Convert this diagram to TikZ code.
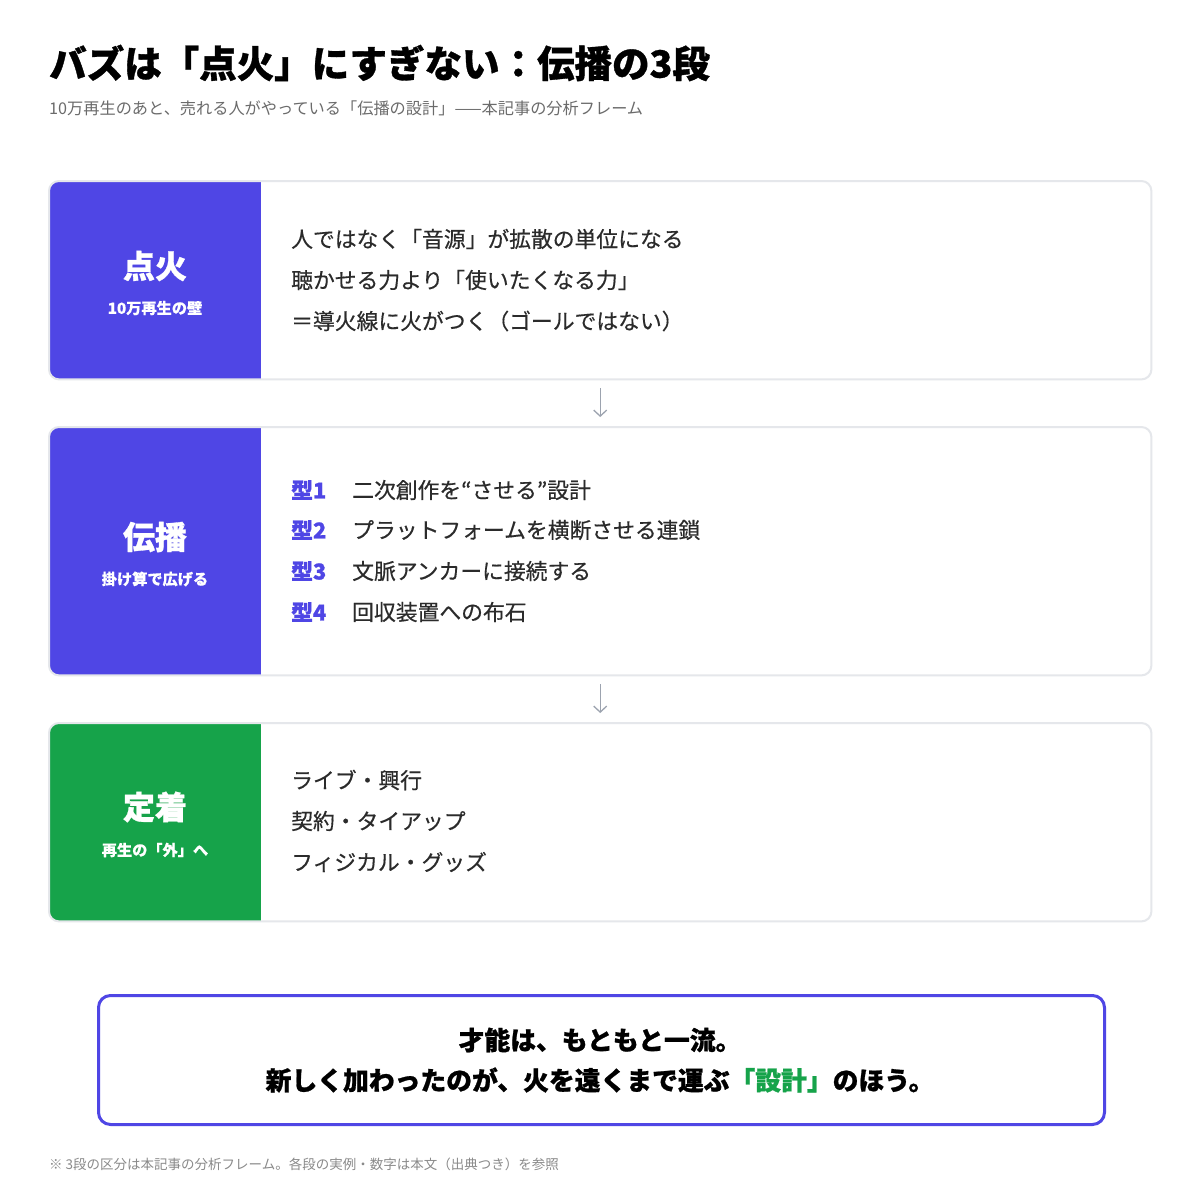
\documentclass[tikz,border=0pt]{standalone}
\usepackage{fontspec}
\setmainfont{Noto Sans CJK JP}[BoldFeatures={FakeBold=0.9}]
\newfontfamily\bodyfont{Noto Sans CJK JP}[FakeBold=0.45]
\newfontfamily\smallbold{Noto Sans CJK JP}[BoldFeatures={FakeBold=0.2}]
\usetikzlibrary{arrows.meta}
\definecolor{brandblue}{HTML}{4F46E5}
\definecolor{brandgreen}{HTML}{16A34A}
\definecolor{cardborder}{HTML}{E5E7EB}
\definecolor{arrowgray}{HTML}{9CA3AF}
\definecolor{bodytext}{HTML}{2B2B2B}
\definecolor{subgray}{HTML}{6B6B6B}
\definecolor{footgray}{HTML}{8A8A8A}
\begin{document}
\begin{tikzpicture}[x=1pt,y=-1pt,
  cardbox/.style={draw=none, inner sep=0pt, minimum width=1102pt, anchor=north west},
  cardedge/.style={draw=cardborder, line width=2pt, rounded corners=10pt},
  paneltitle/.style={text=white, inner sep=0pt, font=\bfseries\fontsize{32}{35}\selectfont},
  panelsub/.style={text=white, inner sep=0pt, font=\smallbold\bfseries\fontsize{15.2}{18}\selectfont},
  bodyline/.style={anchor=west, inner sep=0pt, text=bodytext, font=\bodyfont\fontsize{21.8}{24}\selectfont},
  typelabel/.style={anchor=west, inner sep=0pt, text=brandblue, font=\bfseries\fontsize{21.8}{24}\selectfont},
  flow/.style={draw=arrowgray, line width=1.3pt, -{Straight Barb[length=6pt,width=13pt,line width=1.3pt]}, shorten <=9pt, shorten >=10pt},
  summline/.style={inner sep=0pt, text=black, font=\bfseries\fontsize{25.8}{28}\selectfont}
]
\useasboundingbox (0,0) rectangle (1200,1200);
\fill[white] (0,0) rectangle (1200,1200);

% title
\node[anchor=west, inner sep=0pt, font=\bfseries\fontsize{37.5}{40}\selectfont, text=black] (title) at (49,63) {バズは「点火」にすぎない：伝播の3段};
\node[anchor=west, inner sep=0pt, font=\fontsize{16.2}{18}\selectfont, text=subgray] (subtitle) at (49,108) {10万再生のあと、売れる人がやっている「伝播の設計」——本記事の分析フレーム};

% card 1
\node[cardbox, minimum height=198pt] (c1) at (49,181) {};
\fill[white, rounded corners=10pt] (c1.north west) rectangle (c1.south east);
\begin{scope}
  \clip[rounded corners=10pt] (c1.north west) rectangle (c1.south east);
  \fill[brandblue] (c1.north west) rectangle ([xshift=212pt]c1.south west);
\end{scope}
\draw[cardedge] (c1.north west) rectangle (c1.south east);
\node[paneltitle] (p1t) at (155,266) {点火};
\node[panelsub] (p1s) at (155,308) {10万再生の壁};
\node[bodyline] (l11) at (291,239) {人ではなく「音源」が拡散の単位になる};
\node[bodyline] (l12) at (291,280) {聴かせる力より「使いたくなる力」};
\node[bodyline] (l13) at (291,321) {＝導火線に火がつく（ゴールではない）};

% card 2
\node[cardbox, minimum height=248pt] (c2) at (49,427) {};
\fill[white, rounded corners=10pt] (c2.north west) rectangle (c2.south east);
\begin{scope}
  \clip[rounded corners=10pt] (c2.north west) rectangle (c2.south east);
  \fill[brandblue] (c2.north west) rectangle ([xshift=212pt]c2.south west);
\end{scope}
\draw[cardedge] (c2.north west) rectangle (c2.south east);
\node[paneltitle] (p2t) at (155,537) {伝播};
\node[panelsub] (p2s) at (155,579) {掛け算で広げる};
\node[typelabel] (t1) at (291,490) {型1};
\node[bodyline] (l21) at (352,490) {二次創作を“させる”設計};
\node[typelabel] (t2) at (291,530) {型2};
\node[bodyline] (l22) at (352,530) {プラットフォームを横断させる連鎖};
\node[typelabel] (t3) at (291,571) {型3};
\node[bodyline] (l23) at (352,571) {文脈アンカーに接続する};
\node[typelabel] (t4) at (291,612) {型4};
\node[bodyline] (l24) at (352,612) {回収装置への布石};

% card 3
\node[cardbox, minimum height=198pt] (c3) at (49,723) {};
\fill[white, rounded corners=10pt] (c3.north west) rectangle (c3.south east);
\begin{scope}
  \clip[rounded corners=10pt] (c3.north west) rectangle (c3.south east);
  \fill[brandgreen] (c3.north west) rectangle ([xshift=212pt]c3.south west);
\end{scope}
\draw[cardedge] (c3.north west) rectangle (c3.south east);
\node[paneltitle] (p3t) at (155,807) {定着};
\node[panelsub] (p3s) at (155,850) {再生の「外」へ};
\node[bodyline] (l31) at (291,780) {ライブ・興行};
\node[bodyline] (l32) at (291,821) {契約・タイアップ};
\node[bodyline] (l33) at (291,862) {フィジカル・グッズ};

% arrows
\draw[flow] (c1.south) -- (c2.north);
\draw[flow] (c2.south) -- (c3.north);

% summary
\node[draw=brandblue, line width=3pt, rounded corners=12pt, minimum width=1006pt, minimum height=129pt, inner sep=0pt, anchor=north west] (summ) at (97,994) {};
\node[summline] (s1) at (600,1040) {才能は、もともと一流。};
\node[summline] (s2) at (600,1080) {新しく加わったのが、火を遠くまで運ぶ\textcolor{brandgreen}{「設計」}のほう。};

% footer
\node[anchor=west, inner sep=0pt, font=\fontsize{13.5}{16}\selectfont, text=footgray] (foot) at (49,1164) {※ 3段の区分は本記事の分析フレーム。各段の実例・数字は本文（出典つき）を参照};
\end{tikzpicture}
\end{document}
